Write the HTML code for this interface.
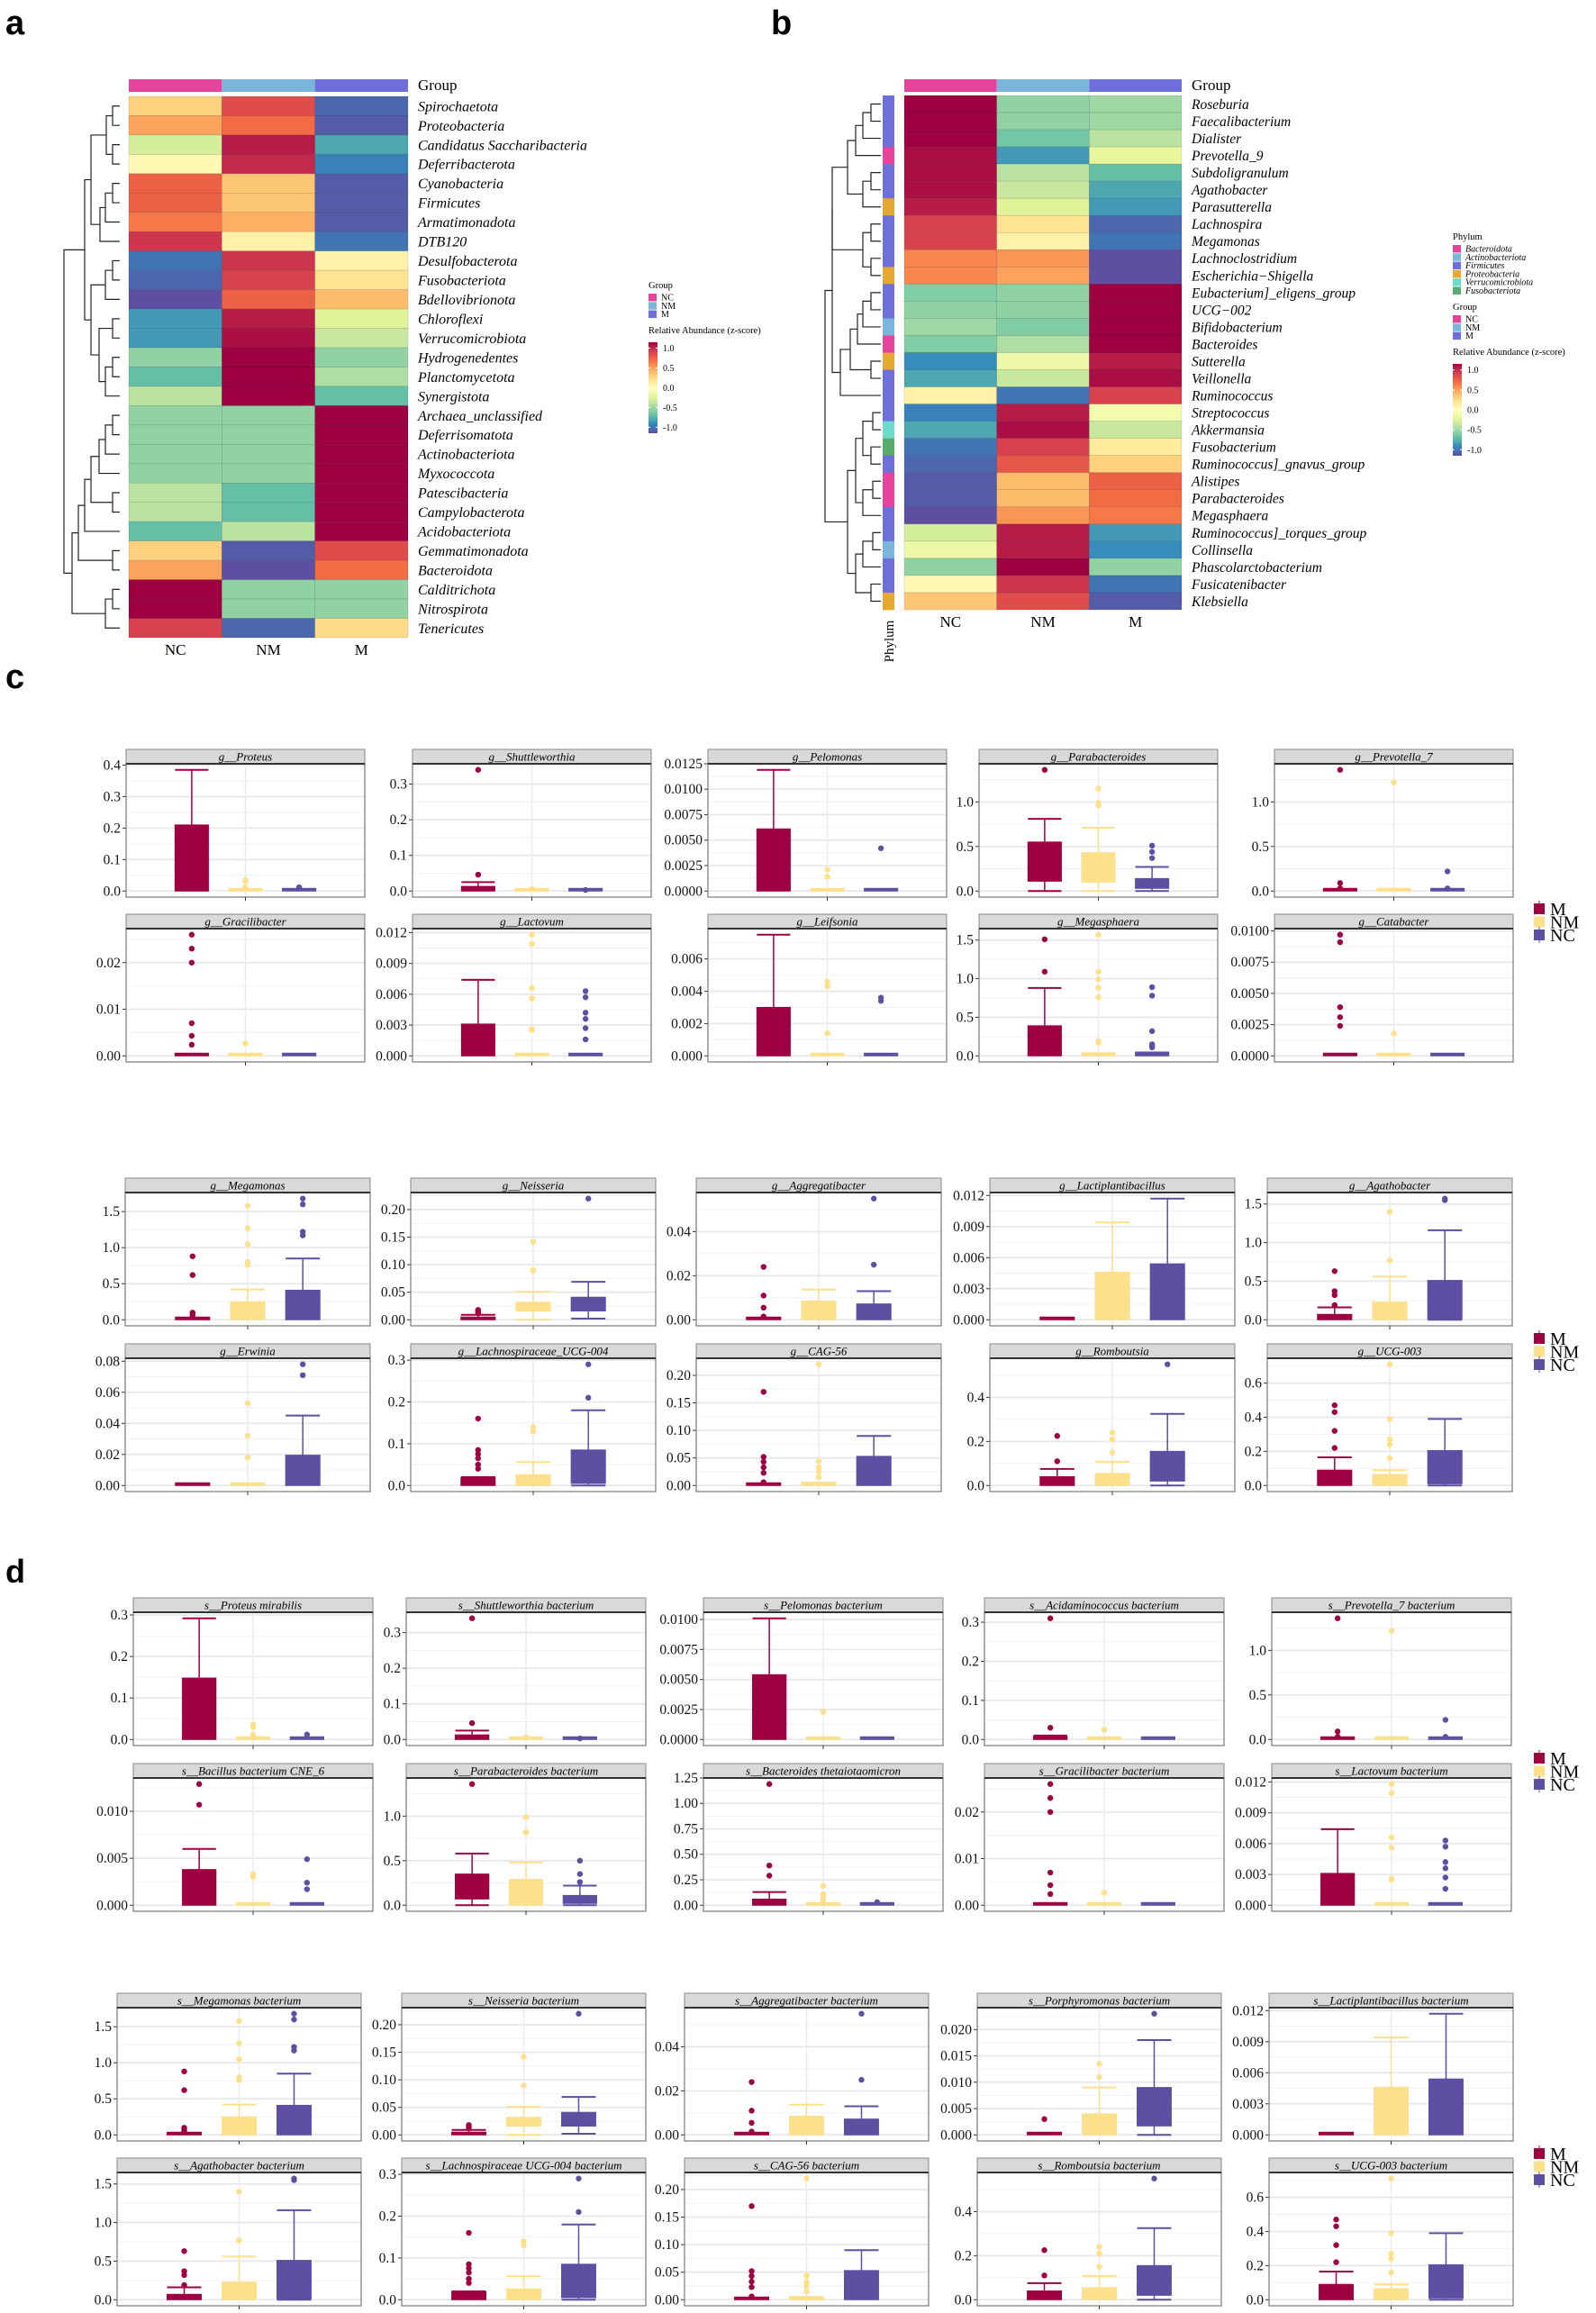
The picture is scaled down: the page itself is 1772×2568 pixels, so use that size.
<!DOCTYPE html>
<html><head><meta charset="utf-8"><style>
html,body{margin:0;padding:0;background:#fff;}
svg{display:block;font-family:"Liberation Serif",serif;}
</style></head>
<body>
<svg id="fig" width="1772" height="2568" viewBox="0 0 1772 2568" xmlns="http://www.w3.org/2000/svg">
<rect width="1772" height="2568" fill="#fff"/>
<text x="6" y="38" font-family="Liberation Sans, sans-serif" font-weight="bold" font-size="38">a</text>
<text x="856" y="38" font-family="Liberation Sans, sans-serif" font-weight="bold" font-size="38">b</text>
<text x="6" y="764" font-family="Liberation Sans, sans-serif" font-weight="bold" font-size="38">c</text>
<text x="6" y="1757" font-family="Liberation Sans, sans-serif" font-weight="bold" font-size="36">d</text>
<g id="root"></g>
</svg>
<script>
// ---------- heatmap data ----------
const aRows = ["Spirochaetota","Proteobacteria","Candidatus Saccharibacteria","Deferribacterota","Cyanobacteria","Firmicutes","Armatimonadota","DTB120","Desulfobacterota","Fusobacteriota","Bdellovibrionota","Chloroflexi","Verrucomicrobiota","Hydrogenedentes","Planctomycetota","Synergistota","Archaea_unclassified","Deferrisomatota","Actinobacteriota","Myxococcota","Patescibacteria","Campylobacterota","Acidobacteriota","Gemmatimonadota","Bacteroidota","Calditrichota","Nitrospirota","Tenericutes"];
const aNC = [0.3,0.5,-0.3,0.05,0.75,0.75,0.65,0.95,-1.0,-1.05,-1.15,-0.85,-0.85,-0.55,-0.7,-0.4,-0.55,-0.55,-0.55,-0.55,-0.4,-0.4,-0.7,0.3,0.5,1.15,1.15,0.9];
const aNM = [0.85,0.7,1.05,1.0,0.35,0.35,0.45,0.1,0.95,0.9,0.75,1.05,1.1,1.15,1.15,1.15,-0.55,-0.55,-0.55,-0.55,-0.7,-0.7,-0.4,-1.1,-1.15,-0.55,-0.55,-1.05];
const aM  = [-1.05,-1.1,-0.8,-0.95,-1.1,-1.1,-1.1,-1.0,0.1,0.2,0.4,-0.25,-0.35,-0.55,-0.45,-0.7,1.15,1.15,1.15,1.15,1.15,1.15,1.15,0.85,0.7,-0.55,-0.55,0.25];
const bRows = ["Roseburia","Faecalibacterium","Dialister","Prevotella_9","Subdoligranulum","Agathobacter","Parasutterella","Lachnospira","Megamonas","Lachnoclostridium","Escherichia\u2212Shigella","Eubacterium]_eligens_group","UCG\u2212002","Bifidobacterium","Bacteroides","Sutterella","Veillonella","Ruminococcus","Streptococcus","Akkermansia","Fusobacterium","Ruminococcus]_gnavus_group","Alistipes","Parabacteroides","Megasphaera","Ruminococcus]_torques_group","Collinsella","Phascolarctobacterium","Fusicatenibacter","Klebsiella"];
const bNC = [1.15,1.15,1.15,1.1,1.1,1.1,1.05,0.9,0.9,0.6,0.6,-0.6,-0.55,-0.5,-0.6,-0.9,-0.8,0.1,-0.95,-0.8,-1.0,-1.05,-1.1,-1.1,-1.15,-0.3,-0.15,-0.55,0.05,0.35];
const bNM = [-0.55,-0.55,-0.65,-0.85,-0.4,-0.35,-0.25,0.2,0.1,0.55,0.5,-0.55,-0.55,-0.6,-0.45,-0.15,-0.35,-1.0,1.05,1.1,0.9,0.8,0.4,0.4,0.55,1.05,1.05,1.15,0.95,0.85];
const bM  = [-0.5,-0.5,-0.4,-0.2,-0.7,-0.8,-0.85,-1.05,-1.0,-1.15,-1.15,1.15,1.15,1.15,1.15,1.05,1.1,0.9,-0.1,-0.35,0.15,0.3,0.75,0.7,0.65,-0.85,-0.9,-0.55,-1.0,-1.1];
const bPhylum = ["F","F","F","B","F","F","P","F","F","F","P","F","F","A","B","P","F","F","F","V","Fu","F","B","B","F","F","A","F","F","P"];
// ---------- boxplot data: [lo, q1, q3, hi, ...outliers] ----------
const cTitles = ["Proteus","Shuttleworthia","Pelomonas","Parabacteroides","Prevotella_7","Gracilibacter","Lactovum","Leifsonia","Megasphaera","Catabacter","Megamonas","Neisseria","Aggregatibacter","Lactiplantibacillus","Agathobacter","Erwinia","Lachnospiraceae_UCG-004","CAG-56","Romboutsia","UCG-003"];
const cTicks = [["0.0","0.1","0.2","0.3","0.4"],["0.0","0.1","0.2","0.3"],["0.0000","0.0025","0.0050","0.0075","0.0100","0.0125"],["0.0","0.5","1.0"],["0.0","0.5","1.0"],["0.00","0.01","0.02"],["0.000","0.003","0.006","0.009","0.012"],["0.000","0.002","0.004","0.006"],["0.0","0.5","1.0","1.5"],["0.0000","0.0025","0.0050","0.0075","0.0100"],["0.0","0.5","1.0","1.5"],["0.00","0.05","0.10","0.15","0.20"],["0.00","0.02","0.04"],["0.000","0.003","0.006","0.009","0.012"],["0.0","0.5","1.0","1.5"],["0.00","0.02","0.04","0.06","0.08"],["0.0","0.1","0.2","0.3"],["0.00","0.05","0.10","0.15","0.20"],["0.0","0.2","0.4"],["0.0","0.2","0.4","0.6"]];
const cM = [[0,0,0.21,0.385],[0,0,0.013,0.025,0.046,0.34],[0,0,0.0061,0.0119],[0,0.11,0.55,0.81,1.36],[0,0,0.01,0.015,0.03,0.09,1.36],[0,0,0.0003,0.0003,0.0024,0.0043,0.007,0.02,0.023,0.026],[0,0,0.0031,0.0074],[0,0,0.003,0.0075],[0,0,0.39,0.88,1.09,1.51],[0,0,0.00003,0.00003,0.0024,0.0031,0.0039,0.0091,0.0097],[0,0,0.01,0.02,0.05,0.08,0.1,0.62,0.88],[0,0,0.005,0.009,0.012,0.015,0.018],[0,0,0.0005,0.0005,0.0015,0.0055,0.011,0.024],[0,0,0.0001,0.0001],[0,0,0.07,0.16,0.19,0.32,0.37,0.63],[0,0,0.0008,0.0008],[0,0,0.018,0.02,0.04,0.05,0.065,0.075,0.085,0.16],[0,0,0.002,0.002,0.006,0.023,0.033,0.043,0.052,0.17],[0,0,0.04,0.075,0.11,0.225],[0,0,0.09,0.165,0.22,0.32,0.43,0.47]];
const cNM = [[0,0,0.003,0.003,0.012,0.03,0.035],[0,0,0.002,0.002,0.006],[0,0,0.0001,0.0001,0.0014,0.0021],[0,0.1,0.43,0.71,0.96,0.99,1.15],[0,0,0.02,0.025,1.22],[0,0,0.0002,0.0002,0.0027],[0,0,0,0,0.0025,0.0026,0.0056,0.0066,0.0109,0.0118],[0,0,0,0,0.0014,0.0043,0.0046],[0,0,0.04,0.04,0.17,0.19,0.76,0.88,0.99,1.09,1.57],[0,0,0.00003,0.00003,0.0018],[0,0,0.25,0.42,0.76,0.8,1.05,1.27,1.58],[0,0.016,0.032,0.051,0.09,0.142],[0,0,0.0085,0.0137],[0,0,0.0046,0.0094],[0,0,0.23,0.56,0.77,1.4],[0,0,0.0008,0.0008,0.018,0.032,0.053],[0,0,0.026,0.056,0.13,0.14],[0,0,0.006,0.006,0.015,0.025,0.033,0.044,0.22],[0,0,0.055,0.108,0.15,0.21,0.24],[0,0,0.065,0.09,0.16,0.24,0.27,0.39,0.71]];
const cNC = [[0,0,0.003,0.003,0.012],[0,0,0.002,0.002,0.003],[0,0,0.0001,0.0001,0.0042],[0,0.03,0.14,0.27,0.37,0.44,0.51],[0,0,0.015,0.02,0.03,0.22],[0,0,0.0002,0.0002],[0,0,0,0,0.0016,0.0027,0.0036,0.0042,0.0057,0.0063],[0,0,0,0,0.0034,0.0036],[0,0,0.05,0.05,0.11,0.13,0.15,0.32,0.78,0.89],[0,0,0.00003,0.00003],[0,0,0.41,0.85,1.17,1.22,1.6,1.68],[0.002,0.016,0.041,0.069,0.22],[0,0,0.0072,0.013,0.025,0.055],[0,0,0.0054,0.0117],[0,0.01,0.51,1.16,1.55,1.57],[0,0,0.0195,0.045,0.071,0.078],[0,0.005,0.085,0.18,0.21,0.29],[0,0,0.053,0.09],[0,0.02,0.155,0.325,0.55],[0,0.01,0.205,0.39]];
const dTitles = ["Proteus mirabilis","Shuttleworthia bacterium","Pelomonas bacterium","Acidaminococcus bacterium","Prevotella_7 bacterium","Bacillus bacterium CNE_6","Parabacteroides bacterium","Bacteroides thetaiotaomicron","Gracilibacter bacterium","Lactovum bacterium","Megamonas bacterium","Neisseria bacterium","Aggregatibacter bacterium","Porphyromonas bacterium","Lactiplantibacillus bacterium","Agathobacter bacterium","Lachnospiraceae UCG-004 bacterium","CAG-56 bacterium","Romboutsia bacterium","UCG-003 bacterium"];
const dTicks = [["0.0","0.1","0.2","0.3"],["0.0","0.1","0.2","0.3"],["0.0000","0.0025","0.0050","0.0075","0.0100"],["0.0","0.1","0.2","0.3"],["0.0","0.5","1.0"],["0.000","0.005","0.010"],["0.0","0.5","1.0"],["0.00","0.25","0.50","0.75","1.00","1.25"],["0.00","0.01","0.02"],["0.000","0.003","0.006","0.009","0.012"],["0.0","0.5","1.0","1.5"],["0.00","0.05","0.10","0.15","0.20"],["0.00","0.02","0.04"],["0.000","0.005","0.010","0.015","0.020"],["0.000","0.003","0.006","0.009","0.012"],["0.0","0.5","1.0","1.5"],["0.0","0.1","0.2","0.3"],["0.00","0.05","0.10","0.15","0.20"],["0.0","0.2","0.4"],["0.0","0.2","0.4","0.6"]];
const dM = [[0,0,0.148,0.292],[0,0,0.013,0.025,0.046,0.34],[0,0,0.0054,0.0101],[0,0,0.008,0.01,0.03,0.31],[0,0,0.01,0.015,0.03,0.09,1.36],[0,0,0.0038,0.006,0.0107,0.0129],[0,0.07,0.35,0.58,1.36],[0,0,0.06,0.13,0.29,0.39,1.19],[0,0,0.0003,0.0003,0.0024,0.0043,0.007,0.02,0.023,0.026],[0,0,0.0031,0.0074],[0,0,0.01,0.02,0.05,0.08,0.1,0.62,0.88],[0,0,0.005,0.009,0.012,0.015,0.018],[0,0,0.0005,0.0005,0.0015,0.0055,0.011,0.024],[0,0,0.0003,0.0003,0.003],[0,0,0.0001,0.0001],[0,0,0.07,0.16,0.19,0.32,0.37,0.63],[0,0,0.018,0.02,0.04,0.05,0.065,0.075,0.085,0.16],[0,0,0.002,0.002,0.006,0.023,0.033,0.043,0.052,0.17],[0,0,0.04,0.075,0.11,0.225],[0,0,0.09,0.165,0.22,0.32,0.43,0.47]];
const dNM = [[0,0,0.003,0.003,0.012,0.03,0.036],[0,0,0.002,0.002,0.006],[0,0,0.0001,0.0001,0.0023],[0,0,0.003,0.003,0.025],[0,0,0.02,0.025,1.22],[0,0,0.0001,0.0001,0.003,0.0033],[0,0,0.29,0.48,0.82,0.99],[0,0,0.025,0.025,0.05,0.08,0.11,0.19],[0,0,0.0002,0.0002,0.0027],[0,0,0,0,0.0025,0.0026,0.0056,0.0066,0.0109,0.0118],[0,0,0.25,0.42,0.76,0.8,1.05,1.27,1.58],[0,0.016,0.032,0.051,0.09,0.142],[0,0,0.0085,0.0137],[0,0,0.004,0.009,0.011,0.0135],[0,0,0.0046,0.0094],[0,0,0.23,0.56,0.77,1.4],[0,0,0.026,0.056,0.13,0.14],[0,0,0.006,0.006,0.015,0.025,0.033,0.044,0.22],[0,0,0.055,0.108,0.15,0.21,0.24],[0,0,0.065,0.09,0.16,0.24,0.27,0.39,0.71]];
const dNC = [[0,0,0.003,0.003,0.012],[0,0,0.002,0.002,0.003],[0,0,0.0001,0.0001],[0,0,0.002,0.002],[0,0,0.015,0.02,0.03,0.22],[0,0,0.0001,0.0001,0.0017,0.0024,0.0049],[0,0.02,0.11,0.22,0.26,0.35,0.5],[0,0,0.01,0.01,0.03],[0,0,0.0002,0.0002],[0,0,0,0,0.0016,0.0027,0.0036,0.0042,0.0057,0.0063],[0,0,0.41,0.85,1.17,1.22,1.6,1.68],[0.002,0.016,0.041,0.069,0.22],[0,0,0.0072,0.013,0.025,0.055],[0,0.0017,0.009,0.018,0.023],[0,0,0.0054,0.0117],[0,0.01,0.51,1.16,1.55,1.57],[0,0.005,0.085,0.18,0.21,0.29],[0,0,0.053,0.09],[0,0.02,0.155,0.325,0.55],[0,0.01,0.205,0.39]];

const NS = "http://www.w3.org/2000/svg";
const root = document.getElementById('root');
function mk(tag, attrs, parent){ const e=document.createElementNS(NS,tag); for(const k in attrs) e.setAttribute(k,attrs[k]); (parent||root).appendChild(e); return e; }
const SPEC = ['#5e4fa2','#3288bd','#66c2a5','#abdda4','#e6f598','#ffffbf','#fee08b','#fdae61','#f46d43','#d53e4f','#9e0142'];
function hex2rgb(h){return [parseInt(h.substr(1,2),16),parseInt(h.substr(3,2),16),parseInt(h.substr(5,2),16)];}
function zcol(v){ let t=(v+1.15)/2.3; t=Math.max(0,Math.min(1,t)); const p=t*(SPEC.length-1); const i=Math.min(SPEC.length-2,Math.floor(p)); const f=p-i; const a=hex2rgb(SPEC[i]), b=hex2rgb(SPEC[i+1]); return 'rgb('+a.map((x,k)=>Math.round(x+(b[k]-x)*f)).join(',')+')'; }
const GCOL = {NC:'#e5449a',NM:'#7ab6dc',M:'#6f6fdc'};
const PCOL = {B:'#e5449a',A:'#7ab6dc',F:'#6f6fdc',P:'#e5a830',V:'#6ddbc9',Fu:'#5aac6e'};

const defs = mk('defs',{}, document.getElementById('fig'));
const grad = mk('linearGradient',{id:'zgrad',x1:0,y1:1,x2:0,y2:0},defs);
SPEC.forEach((c,i)=>{ mk('stop',{offset:(i/(SPEC.length-1)),'stop-color':c},grad); });

function heatmap(name, x0, x1, top, bottom, rows, cols, labelX, fs){
  const g = mk('g',{});
  
  
  const rh=(bottom-top)/rows.length, cw=(x1-x0)/3;
  ['NC','NM','M'].forEach((k,j)=>{
    const r=mk('rect',{x:x0+j*cw,y:88,width:cw,height:14,fill:GCOL[k]},g);
    
    
    const t=mk('text',{x:x0+(j+0.5)*cw,y:bottom+19,'font-size':17,'text-anchor':'middle'},g); t.textContent=k;
    
    
  });
  const gt=mk('text',{x:labelX,y:100,'font-size':17},g); gt.textContent='Group';
  
  
  rows.forEach((lab,i)=>{
    cols.forEach((arr,j)=>{
      const c=mk('rect',{x:x0+j*cw,y:top+i*rh,width:cw,height:rh,fill:zcol(arr[i]),stroke:'rgba(0,0,0,0.18)','stroke-width':0.6},g);
      
      
    });
    const t=mk('text',{x:labelX,y:top+(i+0.5)*rh+fs*0.35,'font-size':fs,'font-style':'italic'},g); t.textContent=lab;
    
    
  });
  return {rh};
}
function dendro(name, tree, top, rh, leafX, scale){
  const g=mk('g',{stroke:'#222','stroke-width':1.2,fill:'none'});
  
  
  function rec(n){
    if(typeof n==='number') return {x:leafX,y:top+(n+0.5)*rh};
    const a=rec(n[1]), b=rec(n[2]); const x=leafX-n[0]*scale;
    mk('path',{d:`M${a.x},${a.y}H${x}V${b.y}H${b.x}`},g);
    return {x:x,y:(a.y+b.y)/2};
  }
  rec(tree);
}
heatmap('heatmap-phylum', 143, 453, 107, 708, aRows, [aNC,aNM,aM], 464, 16);
const aTree=[62,[39,[32,[15,[8,0,1],[8,2,3]],[22,[16,[8,4,5],6],7]],[32,[16,[8,8,9],10],[23,[8,11,12],[16,[8,13,14],15]]]],[53,[46,[39,[32,[23,[16,[8,16,17],18],19],[8,20,21]],22],[8,23,24]],[16,[8,25,26],27]]];
dendro('dendrogram-a', aTree, 107, (708-107)/28, 133, 1);
heatmap('heatmap-genus', 1004, 1312, 106, 677, bRows, [bNC,bNM,bM], 1323, 15.5);
bPhylum.forEach((p,i)=>{ const r=mk('rect',{x:980,y:106+i*(571/30),width:13,height:571/30+0.3,fill:PCOL[p]});
  
   });
const pl=mk('text',{x:0,y:0,'font-size':15,transform:'translate(992,712) rotate(-90)','text-anchor':'middle'}); pl.textContent='Phylum';


const bTree=[62,[54,[54,[37,[28,[20,[11,0,1],2],3],[20,[11,4,5],6]],[20,[11,7,8],[11,9,10]]],[45,[34,[26,[20,[11,11,12],13],14],[11,15,16]],17]],[37,[28,[20,[9,18,19],[11,20,21]],[20,[9,22,23],24]],[28,[20,[9,25,26],27],[11,28,29]]]];
dendro('dendrogram-b', bTree, 106, 571/30, 978, 1);

function legendBlock(x, y0, items, title, italic, name){
  const g=mk('g',{}); 
  
  const t=mk('text',{x:x,y:y0,'font-size':10.5},g); t.textContent=title;
  items.forEach((it,i)=>{ mk('rect',{x:x,y:y0+6+i*9.3,width:9,height:8.5,fill:it[1]},g);
    const l=mk('text',{x:x+14,y:y0+13.5+i*9.3,'font-size':10,'font-style':italic?'italic':'normal'},g); l.textContent=it[0]; });
}
function colorbar(x, top, bot, title, name){
  const g=mk('g',{}); 
  
  const t=mk('text',{x:x,y:top-10,'font-size':10.5},g); t.textContent=title;
  mk('rect',{x:x,y:top,width:10,height:bot-top,fill:'url(#zgrad)'},g);
  const mid=(top+bot)/2, s=(bot-top)/2/1.15;
  [1.0,0.5,0.0,-0.5,-1.0].forEach(v=>{ const yy=mid-v*s; mk('line',{x1:x,x2:x+2,y1:yy,y2:yy,stroke:'#fff'},g); mk('line',{x1:x+8,x2:x+10,y1:yy,y2:yy,stroke:'#fff'},g);
    const l=mk('text',{x:x+16,y:yy+3.5,'font-size':10},g); l.textContent=v.toFixed(1); });
}
legendBlock(720, 320, [['NC',GCOL.NC],['NM',GCOL.NM],['M',GCOL.M]], 'Group', false, 'legend-group-a');
colorbar(720, 380, 481, 'Relative Abundance (z-score)', 'colorbar-a');
legendBlock(1613, 266, [['Bacteroidota',PCOL.B],['Actinobacteriota',PCOL.A],['Firmicutes',PCOL.F],['Proteobacteria',PCOL.P],['Verrucomicrobiota',PCOL.V],['Fusobacteriota',PCOL.Fu]], 'Phylum', true, 'legend-phylum-b');
legendBlock(1613, 344, [['NC',GCOL.NC],['NM',GCOL.NM],['M',GCOL.M]], 'Group', false, 'legend-group-b');
colorbar(1613, 404, 506, 'Relative Abundance (z-score)', 'colorbar-b');

const BCOL = ['#9e0142','#fee08b','#5e4fa2'];
const BNAME = ['M','NM','NC'];
function boxPanel(px, py, w, title, prefix, ticks, groups){
  const g=mk('g',{});
  
  
  const top=py+16, H=148, bot=top+H;
  let all=[]; groups.forEach(a=>all=all.concat(a));
  const dmax=Math.max(...all), dmin=Math.min(...all);
  const lo=dmin-0.05*(dmax-dmin), hi=dmax+0.05*(dmax-dmin);
  const Y=v=>bot-(v-lo)/(hi-lo)*H;
  const X=f=>px+f*w;
  mk('rect',{x:px,y:top,width:w,height:H,fill:'#fff'},g);
  const tv=ticks.map(parseFloat); const step=tv[1]-tv[0];
  for(let k=-1;k<tv.length;k++){ const m=tv[0]+(k+0.5)*step; if(m>lo&&m<hi){ const l=mk('line',{x1:px,x2:px+w,y1:Y(m),y2:Y(m),stroke:'#f2f2f2','stroke-width':1},g);   } }
  tv.forEach((v,i)=>{ const yy=Y(v);
    const l=mk('line',{x1:px,x2:px+w,y1:yy,y2:yy,stroke:'#e8e8e8','stroke-width':1.8},g);
    
    
    mk('line',{x1:px-4,x2:px,y1:yy,y2:yy,stroke:'#333','stroke-width':1},g);
    const t=mk('text',{x:px-6,y:yy+5,'font-size':15.5,'text-anchor':'end',fill:'#111'},g); t.textContent=ticks[i];
    
    
  });
  mk('line',{x1:X(0.5),x2:X(0.5),y1:top,y2:bot,stroke:'#ebebeb','stroke-width':1.5},g);
  const bw=0.14*w;
  groups.forEach((a,j)=>{
    const cx=X(0.275+0.225*j), c=BCOL[j];
    const [wl,q1,q3,wh]=a;
    const bg=mk('g',{},g);
    
    
    if(wh>q3){ mk('line',{x1:cx,x2:cx,y1:Y(q3),y2:Y(wh),stroke:c,'stroke-width':1.5},bg); mk('line',{x1:cx-bw/2,x2:cx+bw/2,y1:Y(wh),y2:Y(wh),stroke:c,'stroke-width':2},bg); }
    if(wl<q1){ mk('line',{x1:cx,x2:cx,y1:Y(q1),y2:Y(wl),stroke:c,'stroke-width':1.5},bg); mk('line',{x1:cx-bw/2,x2:cx+bw/2,y1:Y(wl),y2:Y(wl),stroke:c,'stroke-width':2},bg); }
    const yt=Y(q3), yb=Y(q1), hh=Math.max(3,yb-yt);
    mk('rect',{x:cx-bw/2,y:yb-hh,width:bw,height:hh,fill:c,stroke:c,'stroke-width':1},bg);
    a.slice(4).forEach(v=>{ const d=mk('circle',{cx:cx,cy:Y(v),r:3.2,fill:c},bg);
      
       });
  });
  mk('rect',{x:px,y:top,width:w,height:H,fill:'none',stroke:'#777','stroke-width':1.2},g);
  mk('line',{x1:X(0.5),x2:X(0.5),y1:bot,y2:bot+4,stroke:'#333'},g);
  const s=mk('rect',{x:px,y:py,width:w,height:16,fill:'#d9d9d9',stroke:'#888','stroke-width':1},g);
  
  
  mk('line',{x1:px,x2:px+w,y1:top,y2:top,stroke:'#333','stroke-width':2},g);
  const st=mk('text',{x:X(0.5),y:py+12.5,'font-size':13,'text-anchor':'middle','font-style':'italic'},g);
  st.textContent=prefix+title;
  
  
}
function boxLegend(y, name){
  const g=mk('g',{}); 
  
  BNAME.forEach((n,i)=>{ const yy=y+i*14.5;
    mk('rect',{x:1703,y:yy-6,width:12,height:12,fill:BCOL[i]},g);
    mk('line',{x1:1709,x2:1709,y1:yy-9,y2:yy+9,stroke:BCOL[i],'stroke-width':1},g);
    const t=mk('text',{x:1721,y:yy+7,'font-size':20},g); t.textContent=n; });
}
const cLayout=[{y:832,cols:[140,458,786,1087,1415],w:265},{y:1015,cols:[140,458,786,1087,1415],w:265},{y:1308,cols:[139,456,773,1099,1407],w:272},{y:1492,cols:[139,456,773,1099,1407],w:272}];
const dLayout=[{y:1774,cols:[148,451,781,1093,1412],w:266},{y:1958,cols:[148,451,781,1093,1412],w:266},{y:2213,cols:[130,446,760,1085,1409],w:271},{y:2396,cols:[130,446,760,1085,1409],w:271}];
cTitles.forEach((t,i)=>{ const L=cLayout[Math.floor(i/5)]; boxPanel(L.cols[i%5], L.y, L.w, t, 'g__', cTicks[i], [cM[i],cNM[i],cNC[i]]); });
dTitles.forEach((t,i)=>{ const L=dLayout[Math.floor(i/5)]; boxPanel(L.cols[i%5], L.y, L.w, t, 's__', dTicks[i], [dM[i],dNM[i],dNC[i]]); });
boxLegend(1009,'legend-c-top'); boxLegend(1486,'legend-c-bottom'); boxLegend(1952,'legend-d-top'); boxLegend(2391,'legend-d-bottom');
</script>
</body></html>
